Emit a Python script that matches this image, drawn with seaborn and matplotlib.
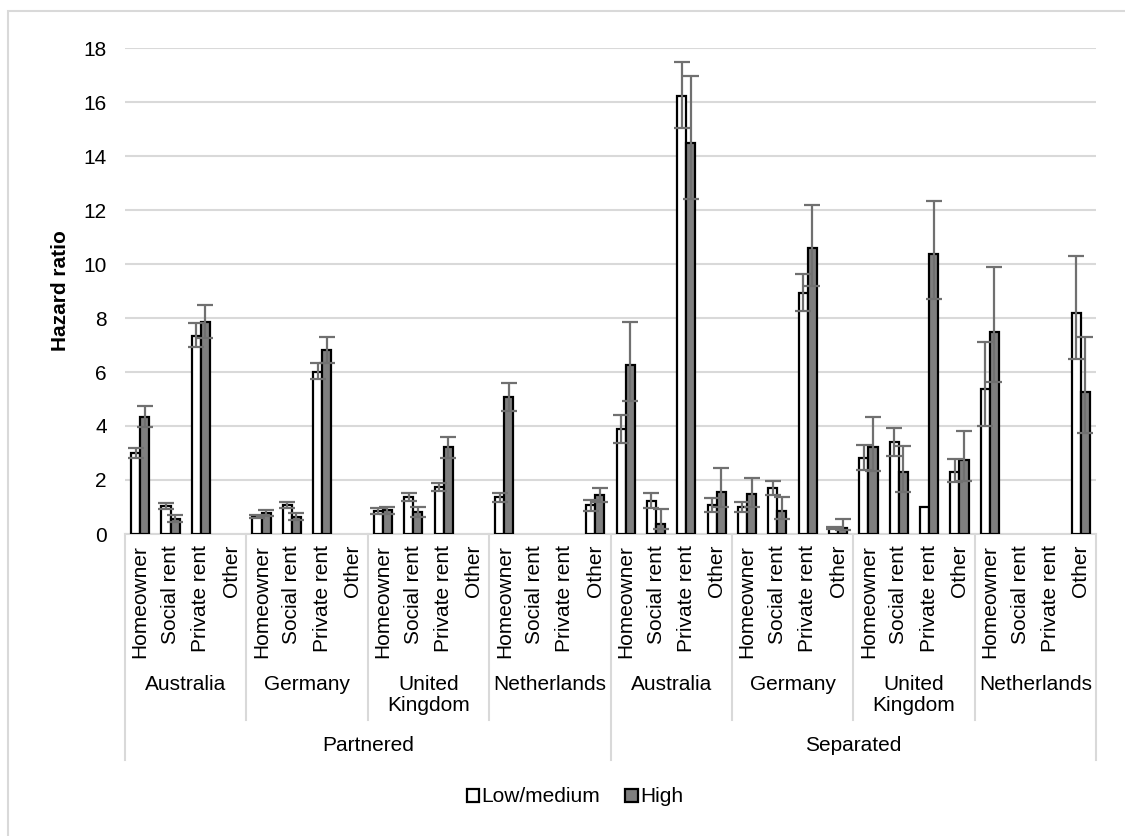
import numpy as np
import pandas as pd
import matplotlib
matplotlib.use("Agg")
import matplotlib.pyplot as plt
import matplotlib.transforms as mtransforms
from matplotlib.patches import Patch, Rectangle
import seaborn as sns

# ---------------- 1. Data ----------------
statuses = ["Partnered", "Separated"]
countries = ["Australia", "Germany", "United\nKingdom", "Netherlands"]
tenures = ["Homeowner", "Social rent", "Private rent", "Other"]
levels = ["Low/medium", "High"]

# hazard ratios, order: status -> country -> tenure (nan = not shown)
low_hr = [3.0, 1.05, 7.35, np.nan,
          0.65, 1.07, 6.0, np.nan,
          0.85, 1.38, 1.75, np.nan,
          1.36, np.nan, np.nan, 1.07,
          3.88, 1.22, 16.22, 1.07,
          1.01, 1.69, 8.91, 0.21,
          2.83, 3.4, 1.0, 2.31,
          5.36, np.nan, np.nan, 8.17]
low_lo = [2.8, 0.93, 6.94, np.nan,
          0.58, 0.97, 5.73, np.nan,
          0.75, 1.23, 1.59, np.nan,
          1.2, np.nan, np.nan, 0.86,
          3.38, 0.97, 15.03, 0.83,
          0.83, 1.44, 8.27, 0.17,
          2.37, 2.9, np.nan, 1.94,
          4.01, np.nan, np.nan, 6.47]
low_hi = [3.2, 1.16, 7.8, np.nan,
          0.72, 1.2, 6.34, np.nan,
          0.95, 1.51, 1.9, np.nan,
          1.51, np.nan, np.nan, 1.26,
          4.41, 1.51, 17.49, 1.32,
          1.2, 1.96, 9.62, 0.25,
          3.3, 3.94, np.nan, 2.77,
          7.1, np.nan, np.nan, 10.31]

high_hr = [4.35, 0.54, 7.86, np.nan,
           0.78, 0.62, 6.81, np.nan,
           0.88, 0.83, 3.21, np.nan,
           5.09, np.nan, np.nan, 1.44,
           6.26, 0.37, 14.49, 1.57,
           1.47, 0.86, 10.58, 0.21,
           3.23, 2.28, 10.37, 2.74,
           7.47, np.nan, np.nan, 5.25]
high_lo = [3.96, 0.43, 7.25, np.nan,
           0.68, 0.52, 6.32, np.nan,
           0.75, 0.64, 2.8, np.nan,
           4.57, np.nan, np.nan, 1.2,
           4.93, 0.17, 12.4, 0.99,
           0.99, 0.54, 9.19, 0.15,
           2.35, 1.57, 8.7, 1.96,
           5.64, np.nan, np.nan, 3.75]
high_hi = [4.75, 0.69, 8.48, np.nan,
           0.9, 0.79, 7.31, np.nan,
           1.0, 1.01, 3.58, np.nan,
           5.6, np.nan, np.nan, 1.7,
           7.86, 0.93, 16.96, 2.46,
           2.09, 1.36, 12.19, 0.54,
           4.35, 3.27, 12.35, 3.83,
           9.88, np.nan, np.nan, 7.31]

# ---------------- 2. Prepare Data ----------------
keys = [f"{s}|{c}|{t}" for s in statuses for c in countries for t in tenures]
df = pd.DataFrame({
    "key": keys * 2,
    "level": [levels[0]] * len(keys) + [levels[1]] * len(keys),
    "hr": low_hr + high_hr,
    "lo": low_lo + high_lo,
    "hi": low_hi + high_hi,
})
plot_df = df.dropna(subset=["hr"])

# ---------------- 3. Plot ----------------
plt.rcParams["font.family"] = ["Liberation Sans", "DejaVu Sans"]
FS = 15
fig = plt.figure(figsize=(11.25, 8.36), dpi=100)
ax = fig.add_axes([125 / 1125, 1 - 534 / 836, 971 / 1125, 486 / 836])

sns.barplot(data=plot_df, x="key", y="hr", hue="level", order=keys,
            hue_order=levels, palette=["white", "#7f7f7f"], width=0.6,
            edgecolor="black", linewidth=1.6, errorbar=None, legend=False,
            ax=ax, zorder=3)

# error bars at bar centres
n = len(keys)
offsets = {levels[0]: -0.15, levels[1]: 0.15}
for lev, (hr, lo, hi) in zip(levels, [(low_hr, low_lo, low_hi), (high_hr, high_lo, high_hi)]):
    for i in range(n):
        if np.isnan(hr[i]) or np.isnan(lo[i]):
            continue
        ax.errorbar(i + offsets[lev], hr[i], yerr=[[hr[i] - lo[i]], [hi[i] - hr[i]]],
                    fmt="none", ecolor="#707070", elinewidth=1.6, capsize=6,
                    capthick=1.6, zorder=4)

ax.set_xlim(-0.5, n - 0.5)
ax.set_ylim(0, 18)
ax.set_yticks(range(0, 19, 2))
ax.yaxis.grid(True, color="#d9d9d9", linewidth=1.5)
ax.set_axisbelow(True)
for s in ["top", "right", "left"]:
    ax.spines[s].set_visible(False)
ax.spines["bottom"].set_color("#d9d9d9")
ax.spines["bottom"].set_linewidth(1.5)
ax.tick_params(axis="both", length=0, labelsize=FS, colors="black")
ax.tick_params(axis="y", pad=13)
ax.tick_params(axis="x", pad=8)
ax.set_xticks(range(n))
ax.set_xticklabels(tenures * (len(statuses) * len(countries)), rotation=90)
ax.set_xlabel("")
ax.set_ylabel("Hazard ratio", fontsize=FS, fontweight="bold")
ax.yaxis.set_label_coords(-0.057, 0.5)

# hierarchical axis labels
trans = mtransforms.blended_transform_factory(ax.transData, ax.transAxes)
sep_kw = dict(color="#d9d9d9", linewidth=1.5, transform=trans, clip_on=False)
nt = len(tenures)
for j in range(len(statuses) * len(countries) + 1):
    x = j * nt - 0.5
    bottom = -0.465 if j % len(countries) == 0 else -0.383
    ax.plot([x, x], [0, bottom], **sep_kw)
for si, s in enumerate(statuses):
    for ci, c in enumerate(countries):
        xc = (si * len(countries) + ci) * nt + (nt - 1) / 2
        ax.text(xc, -0.29, c, ha="center", va="top", fontsize=FS,
                transform=trans, linespacing=1.12)
    xs = si * len(countries) * nt + (len(countries) * nt - 1) / 2
    ax.text(xs, -0.435, s, ha="center", va="center", fontsize=FS, transform=trans)

# legend
handles = [Patch(facecolor="white", edgecolor="black", linewidth=1.6),
           Patch(facecolor="#7f7f7f", edgecolor="black", linewidth=1.6)]
fig.legend(handles, levels, loc="center", bbox_to_anchor=(0.511, 0.0467), ncol=2,
           frameon=False, fontsize=FS, handlelength=0.6, handleheight=0.6,
           handletextpad=0.1, columnspacing=1.2)

# chart border
fig.patches.append(Rectangle((8 / 1125, -0.1), 1.2, 1.1 - 11 / 836,
                             transform=fig.transFigure, fill=False,
                             edgecolor="#d9d9d9", linewidth=1.5))

fig.savefig("out.png", dpi=100)
